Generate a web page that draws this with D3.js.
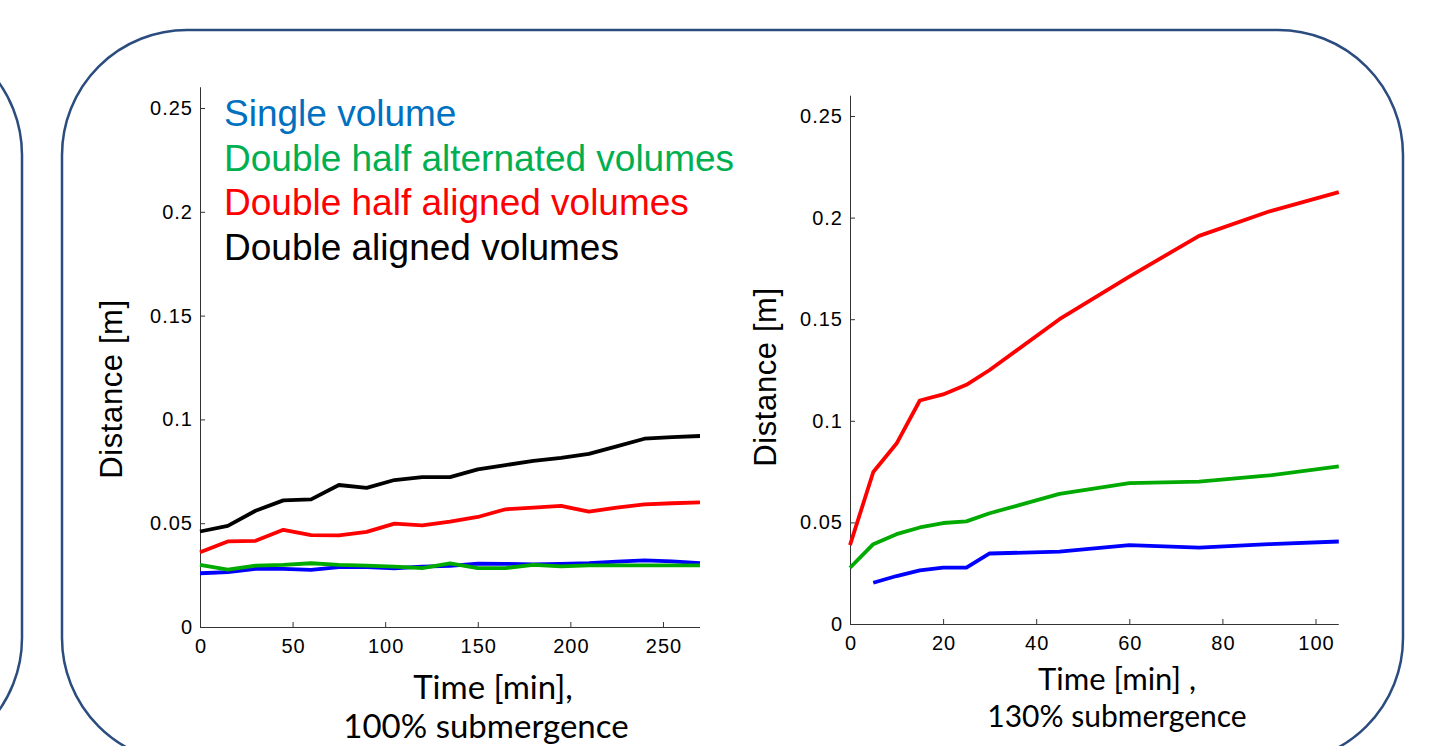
<!DOCTYPE html>
<html><head><meta charset="utf-8">
<script src="https://cdn.jsdelivr.net/npm/d3@7"></script>
<style>
html,body{margin:0;padding:0;background:#fff;overflow:hidden}
svg{display:block}
</style></head>
<body>
<svg id="c" width="1445" height="746"></svg>
<script>
// ---------- data ----------
const timeLeft = [0,15,30,45,60,75,90,105,120,135,150,165,180,195,210,225,240,255,270];
const leftSingle      = [0.0259,0.0264,0.0280,0.0280,0.0275,0.0288,0.0288,0.0283,0.0291,0.0294,0.0305,0.0304,0.0302,0.0304,0.0308,0.0315,0.0321,0.0316,0.0308];
const leftHalfAlt     = [0.0299,0.0276,0.0296,0.0299,0.0307,0.0299,0.0296,0.0291,0.0284,0.0307,0.0284,0.0284,0.0299,0.0292,0.0297,0.0297,0.0297,0.0297,0.0297];
const leftHalfAligned = [0.0360,0.0412,0.0415,0.0468,0.0443,0.0441,0.0458,0.0498,0.0490,0.0508,0.0530,0.0567,0.0575,0.0583,0.0556,0.0575,0.0591,0.0596,0.0600];
const leftAligned     = [0.0460,0.0487,0.0560,0.0610,0.0615,0.0684,0.0670,0.0708,0.0722,0.0722,0.0759,0.0780,0.0800,0.0815,0.0834,0.0870,0.0907,0.0915,0.0920];

const timeRight = [0,5,10,15,20,25,30,45,60,75,90,105];
const rightSingle      = [null,0.0203,0.0236,0.0264,0.0277,0.0277,0.0347,0.0356,0.0388,0.0376,0.0393,0.0406];
const rightHalfAlt     = [0.0277,0.0393,0.0442,0.0475,0.0497,0.0505,0.0545,0.0640,0.0693,0.0701,0.0731,0.0776];
const rightHalfAligned = [0.0388,0.0748,0.0888,0.1100,0.1130,0.1177,0.1250,0.1500,0.1710,0.1910,0.2030,0.2125];

const yTicks = [0,0.05,0.1,0.15,0.2,0.25];
const yTickLabels = ["0","0.05","0.1","0.15","0.2","0.25"];
const xTicksLeft = [0,50,100,150,200,250];
const xTicksRight = [0,20,40,60,80,100];

const legendLabels = ["Single volume","Double half alternated volumes","Double half aligned volumes","Double aligned volumes"];
const legendColors = ["#0070C0","#00B050","#FF0000","#000000"];
const lineColors = {single:"#0000FF", halfAlt:"#00AA00", halfAligned:"#FF0000", aligned:"#000000"};

// ---------- drawing ----------
const svg = d3.select("#c");
const frame = "#2B4C7E";
const arial = "'Liberation Sans',Arial,sans-serif";

// panels (rounded frames)
svg.append("rect").attr("x",-300).attr("y",30).attr("width",322).attr("height",733)
  .attr("rx",125).attr("ry",125).attr("fill","none").attr("stroke",frame).attr("stroke-width",2.5);
svg.append("rect").attr("x",62).attr("y",30).attr("width",1341).attr("height",733)
  .attr("rx",125).attr("ry",125).attr("fill","none").attr("stroke",frame).attr("stroke-width",2.5);

function drawChart(cfg){
  const x = d3.scaleLinear().domain(cfg.xDomain).range(cfg.xRange);
  const y = d3.scaleLinear().domain([0,0.26]).range(cfg.yRange);
  const g = svg.append("g");
  const axisColor = "#333";
  // y axis
  const ya = g.append("g").attr("transform",`translate(${cfg.xRange[0]},0)`)
    .call(d3.axisRight(y).tickValues(yTicks).tickSize(5).tickFormat(""));
  ya.select(".domain").attr("stroke",axisColor).attr("d",`M0.5,${cfg.yRange[0]}V${cfg.yRange[1]}`);
  ya.selectAll(".tick line").attr("stroke",axisColor);
  g.selectAll(".ylab").data(yTicks).join("text")
    .attr("x",cfg.xRange[0]-7).attr("y",d=>y(d)+7).attr("text-anchor","end")
    .attr("font-family",arial).attr("font-size",20)
    .attr("letter-spacing","1px")
    .text((d,i)=>yTickLabels[i]);
  // x axis
  const xa = g.append("g").attr("transform",`translate(0,${cfg.yRange[0]})`)
    .call(d3.axisTop(x).tickValues(cfg.xTicks).tickSize(5).tickFormat(""));
  xa.select(".domain").attr("stroke",axisColor).attr("d",`M${cfg.xRange[0]},0.5H${cfg.xRange[1]}`);
  xa.selectAll(".tick line").attr("stroke",axisColor);
  g.selectAll(".xlab").data(cfg.xTicks).join("text")
    .attr("x",d=>x(d)+1).attr("y",cfg.yRange[0]+26).attr("text-anchor","middle")
    .attr("font-family",arial).attr("font-size",20)
    .attr("letter-spacing","1px")
    .text(d=>String(d));
  // y label
  g.append("text").attr("transform",`translate(${cfg.yLabelX},${cfg.yLabelY}) rotate(-90)`)
    .attr("text-anchor","middle").attr("font-family",arial)
    .attr("font-size",31).attr("letter-spacing","0.6px").text("Distance [m]");
  // x title
  cfg.xTitle.forEach(t=>{
    g.append("text").attr("x",t.x).attr("y",t.y).attr("text-anchor","middle")
      .attr("font-family","Lato,'Open Sans',sans-serif").attr("font-size",t.size)
      .text(t.text);
  });
  // lines
  const line = d3.line().defined(d=>d[1]!=null).x(d=>x(d[0])).y(d=>y(d[1]));
  cfg.series.forEach(s=>{
    g.append("path").datum(s.t.map((t,i)=>[t,s.v[i]]))
      .attr("d",line).attr("fill","none").attr("stroke",s.color)
      .attr("stroke-width",3.8).attr("stroke-linejoin","round");
  });
  return {x,y,g};
}

drawChart({
  xDomain:[0,270], xRange:[200,700], yRange:[627,627-0.26*2076], xTicks:xTicksLeft,
  yLabelX:122, yLabelY:389,
  xTitle:[{text:"Time [min],",x:493,y:699,size:33},{text:"100% submergence",x:486,y:738,size:33}],
  series:[
    {t:timeLeft,v:leftSingle,color:lineColors.single},
    {t:timeLeft,v:leftHalfAlt,color:lineColors.halfAlt},
    {t:timeLeft,v:leftHalfAligned,color:lineColors.halfAligned},
    {t:timeLeft,v:leftAligned,color:lineColors.aligned}
  ]
});

drawChart({
  xDomain:[0,105], xRange:[850,850+105*4.655], yRange:[624,624-0.26*2032], xTicks:xTicksRight,
  yLabelX:776, yLabelY:377,
  xTitle:[{text:"Time [min] ,",x:1117,y:690,size:31},{text:"130% submergence",x:1117,y:727,size:30}],
  series:[
    {t:timeRight,v:rightSingle,color:lineColors.single},
    {t:timeRight,v:rightHalfAlt,color:lineColors.halfAlt},
    {t:timeRight,v:rightHalfAligned,color:lineColors.halfAligned}
  ]
});

// legend
svg.append("g").selectAll("text").data(legendLabels).join("text")
  .attr("x",224).attr("y",(d,i)=>126+i*44.5)
  .attr("font-family",arial).attr("font-size",37)
  .attr("fill",(d,i)=>legendColors[i]).text(d=>d);
</script>
</body></html>
